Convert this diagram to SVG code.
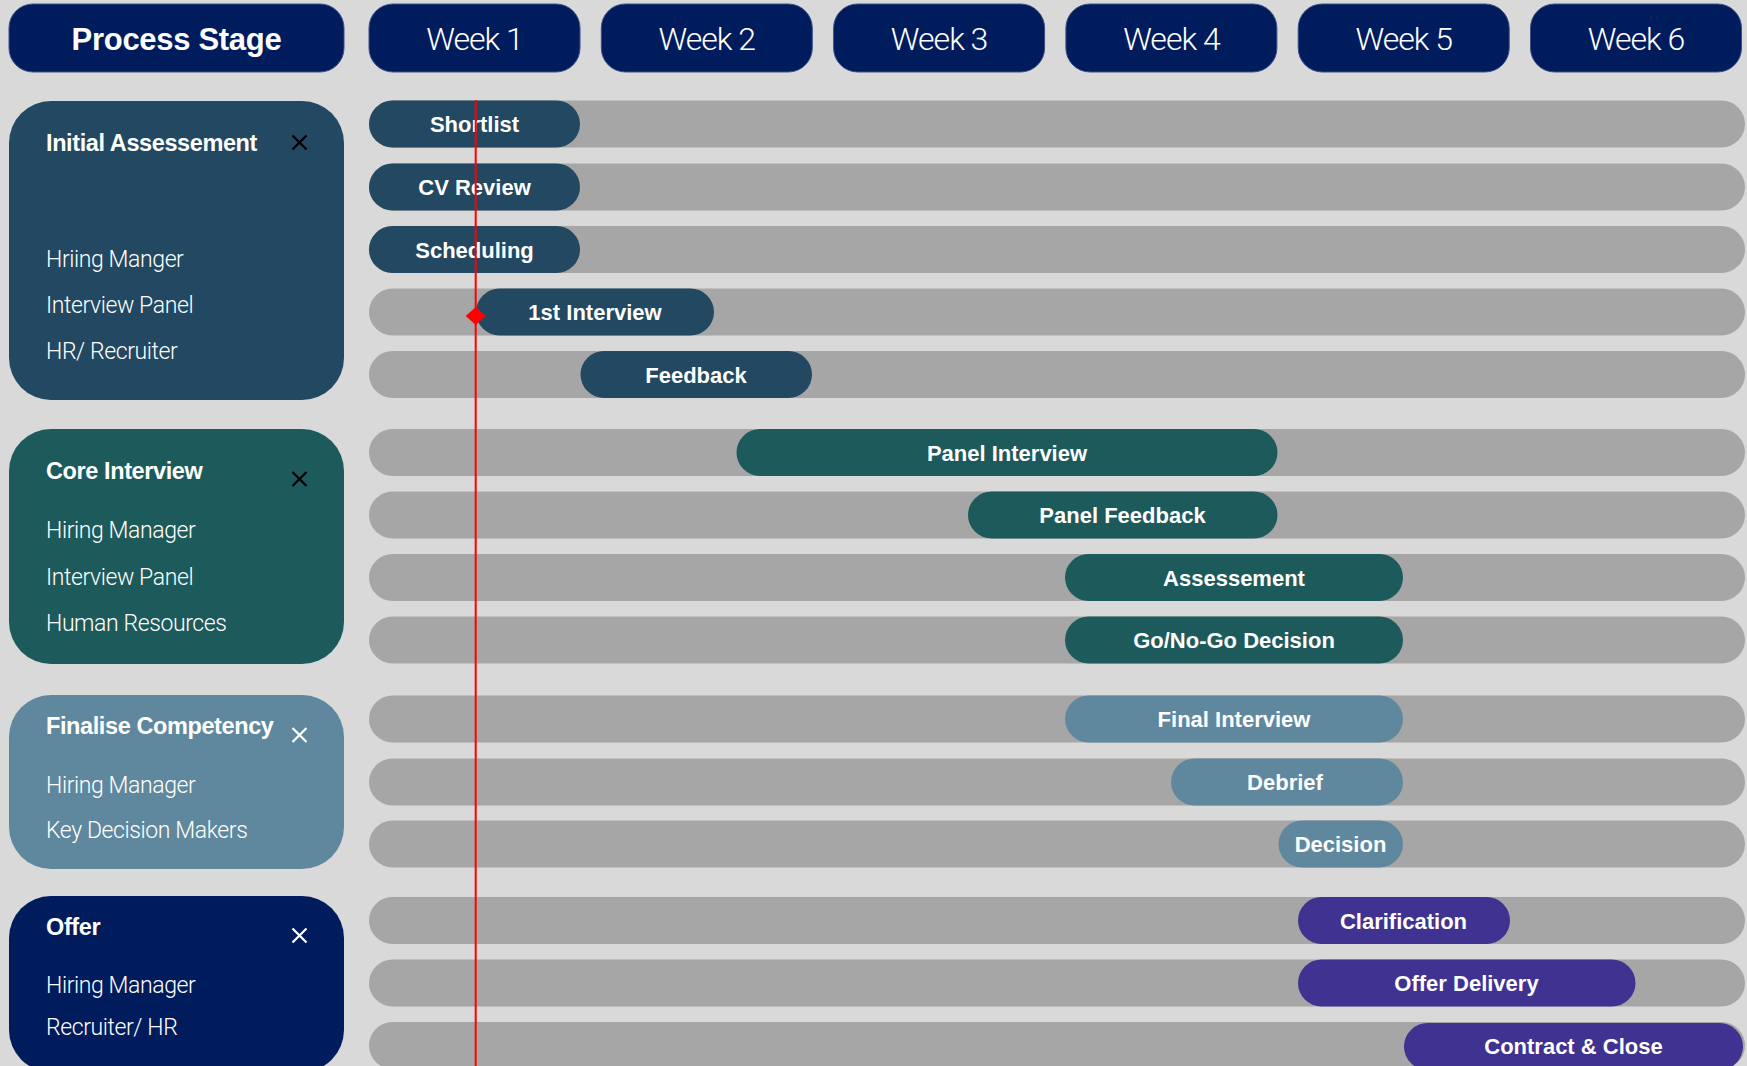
<svg xmlns="http://www.w3.org/2000/svg" width="1747" height="1066" viewBox="0 0 1747 1066">
<style>
.hdr{fill:#001c5c;stroke:#3a4f86;stroke-width:1}
.hb{font-family:"Liberation Sans",Arial,sans-serif;font-weight:bold;font-size:31px;fill:#fff;text-anchor:middle;letter-spacing:-0.3px}
.hw{font-family:Roboto,"Liberation Sans",sans-serif;font-weight:300;font-size:32px;fill:#fff;text-anchor:middle;letter-spacing:-1px}
.pt{font-family:"Liberation Sans",Arial,sans-serif;font-weight:bold;font-size:23.5px;fill:#fff;letter-spacing:-0.4px}
.pi{font-family:Roboto,"Liberation Sans",sans-serif;font-weight:300;font-size:23px;fill:#fff;letter-spacing:-0.4px}
.track{fill:#a6a6a6}
.tl{font-family:"Liberation Sans",Arial,sans-serif;font-weight:bold;font-size:22px;fill:#fff;text-anchor:middle}
.c1{fill:#224862}
.c2{fill:#1d5a5b}
.c3{fill:#5f889e}
.c4{fill:#001c5c}
.c5{fill:#3f3290}
.xb{stroke:#000;stroke-width:2.2;fill:none}
.xw{stroke:#fff;stroke-width:2.2;fill:none}
</style>
<rect width="1747" height="1066" fill="#d9d9d9"/>

<g id="header-process-stage"><rect class="hdr" x="9" y="4" width="335" height="68" rx="24"/><text class="hb" x="176.5" y="50">Process Stage</text></g>
<g id="header-week1"><rect class="hdr" x="369" y="4" width="211" height="68" rx="24"/><text class="hw" x="474.5" y="50">Week 1</text></g>
<g id="header-week2"><rect class="hdr" x="601.3" y="4" width="211" height="68" rx="24"/><text class="hw" x="706.8" y="50">Week 2</text></g>
<g id="header-week3"><rect class="hdr" x="833.6" y="4" width="211" height="68" rx="24"/><text class="hw" x="939.1" y="50">Week 3</text></g>
<g id="header-week4"><rect class="hdr" x="1065.9" y="4" width="211" height="68" rx="24"/><text class="hw" x="1171.4" y="50">Week 4</text></g>
<g id="header-week5"><rect class="hdr" x="1298.2" y="4" width="211" height="68" rx="24"/><text class="hw" x="1403.7" y="50">Week 5</text></g>
<g id="header-week6"><rect class="hdr" x="1530.5" y="4" width="211" height="68" rx="24"/><text class="hw" x="1636" y="50">Week 6</text></g>

<g id="stage-initial-assessement">
<rect class="c1" x="9" y="101" width="335" height="299" rx="42"/>
<text class="pt" x="46" y="151">Initial Assessement</text>
<path class="xb" d="M292.5 135.5 L306.5 149.5 M306.5 135.5 L292.5 149.5"/>
<text class="pi" x="46" y="267">Hriing Manger</text>
<text class="pi" x="46" y="313">Interview Panel</text>
<text class="pi" x="46" y="359">HR/ Recruiter</text>
</g>
<g id="stage-core-interview">
<rect class="c2" x="9" y="429" width="335" height="235" rx="42"/>
<text class="pt" x="46" y="479">Core Interview</text>
<path class="xb" d="M292.5 472 L306.5 486 M306.5 472 L292.5 486"/>
<text class="pi" x="46" y="538">Hiring Manager</text>
<text class="pi" x="46" y="585">Interview Panel</text>
<text class="pi" x="46" y="631">Human Resources</text>
</g>
<g id="stage-finalise-competency">
<rect class="c3" x="9" y="695" width="335" height="174" rx="42"/>
<text class="pt" x="46" y="734">Finalise Competency</text>
<path class="xw" d="M292.5 728 L306.5 742 M306.5 728 L292.5 742"/>
<text class="pi" x="46" y="793">Hiring Manager</text>
<text class="pi" x="46" y="838">Key Decision Makers</text>
</g>
<g id="stage-offer">
<rect class="c4" x="9" y="896" width="335" height="176" rx="42"/>
<text class="pt" x="46" y="935">Offer</text>
<path class="xw" d="M292.5 928.5 L306.5 942.5 M306.5 928.5 L292.5 942.5"/>
<text class="pi" x="46" y="993">Hiring Manager</text>
<text class="pi" x="46" y="1035">Recruiter/ HR</text>
</g>

<g id="tracks">
<rect class="track" x="369" y="100.5" width="1376" height="47" rx="23.5"/>
<rect class="track" x="369" y="163.5" width="1376" height="47" rx="23.5"/>
<rect class="track" x="369" y="226" width="1376" height="47" rx="23.5"/>
<rect class="track" x="369" y="288.5" width="1376" height="47" rx="23.5"/>
<rect class="track" x="369" y="351" width="1376" height="47" rx="23.5"/>
<rect class="track" x="369" y="429" width="1376" height="47" rx="23.5"/>
<rect class="track" x="369" y="491.5" width="1376" height="47" rx="23.5"/>
<rect class="track" x="369" y="554" width="1376" height="47" rx="23.5"/>
<rect class="track" x="369" y="616.5" width="1376" height="47" rx="23.5"/>
<rect class="track" x="369" y="695.5" width="1376" height="47" rx="23.5"/>
<rect class="track" x="369" y="758.5" width="1376" height="47" rx="23.5"/>
<rect class="track" x="369" y="820.5" width="1376" height="47" rx="23.5"/>
<rect class="track" x="369" y="897" width="1376" height="47" rx="23.5"/>
<rect class="track" x="369" y="959.5" width="1376" height="47" rx="23.5"/>
<rect class="track" x="369" y="1022" width="1376" height="47" rx="23.5"/>
</g>

<g id="task-shortlist"><rect class="c1" x="369" y="100.5" width="211" height="47" rx="23.5"/><text class="tl" x="474.5" y="132">Shortlist</text></g>
<g id="task-cv-review"><rect class="c1" x="369" y="163.5" width="211" height="47" rx="23.5"/><text class="tl" x="474.5" y="195">CV Review</text></g>
<g id="task-scheduling"><rect class="c1" x="369" y="226" width="211" height="47" rx="23.5"/><text class="tl" x="474.5" y="257.5">Scheduling</text></g>
<g id="task-1st-interview"><rect class="c1" x="476" y="288.5" width="238" height="47" rx="23.5"/><text class="tl" x="595" y="320">1st Interview</text></g>
<g id="task-feedback"><rect class="c1" x="580.5" y="351" width="231.5" height="47" rx="23.5"/><text class="tl" x="696" y="382.5">Feedback</text></g>
<g id="task-panel-interview"><rect class="c2" x="736.5" y="429" width="541" height="47" rx="23.5"/><text class="tl" x="1007" y="460.5">Panel Interview</text></g>
<g id="task-panel-feedback"><rect class="c2" x="968" y="491.5" width="309.5" height="47" rx="23.5"/><text class="tl" x="1122.5" y="523">Panel Feedback</text></g>
<g id="task-assessement"><rect class="c2" x="1065" y="554" width="338" height="47" rx="23.5"/><text class="tl" x="1234" y="585.5">Assessement</text></g>
<g id="task-go-no-go"><rect class="c2" x="1065" y="616.5" width="338" height="47" rx="23.5"/><text class="tl" x="1234" y="648">Go/No-Go Decision</text></g>
<g id="task-final-interview"><rect class="c3" x="1065" y="695.5" width="338" height="47" rx="23.5"/><text class="tl" x="1234" y="727">Final Interview</text></g>
<g id="task-debrief"><rect class="c3" x="1171" y="758.5" width="232" height="47" rx="23.5"/><text class="tl" x="1285" y="790">Debrief</text></g>
<g id="task-decision"><rect class="c3" x="1278.5" y="820.5" width="124.5" height="47" rx="23.5"/><text class="tl" x="1340.5" y="852">Decision</text></g>
<g id="task-clarification"><rect class="c5" x="1298" y="897" width="212" height="47" rx="23.5"/><text class="tl" x="1403.5" y="928.5">Clarification</text></g>
<g id="task-offer-delivery"><rect class="c5" x="1298" y="959.5" width="337.5" height="47" rx="23.5"/><text class="tl" x="1466.5" y="991">Offer Delivery</text></g>
<g id="task-contract-close"><rect class="c5" x="1404" y="1023" width="339" height="47" rx="23.5"/><text class="tl" x="1573.5" y="1054">Contract &amp; Close</text></g>

<g id="connectors">
<line x1="475.7" y1="100" x2="475.7" y2="1066" stroke="#ff0000" stroke-width="2"/>
<polygon points="475.7,307 485.7,316 475.7,325 465.7,316" fill="#ff0000"/>
</g>
</svg>
